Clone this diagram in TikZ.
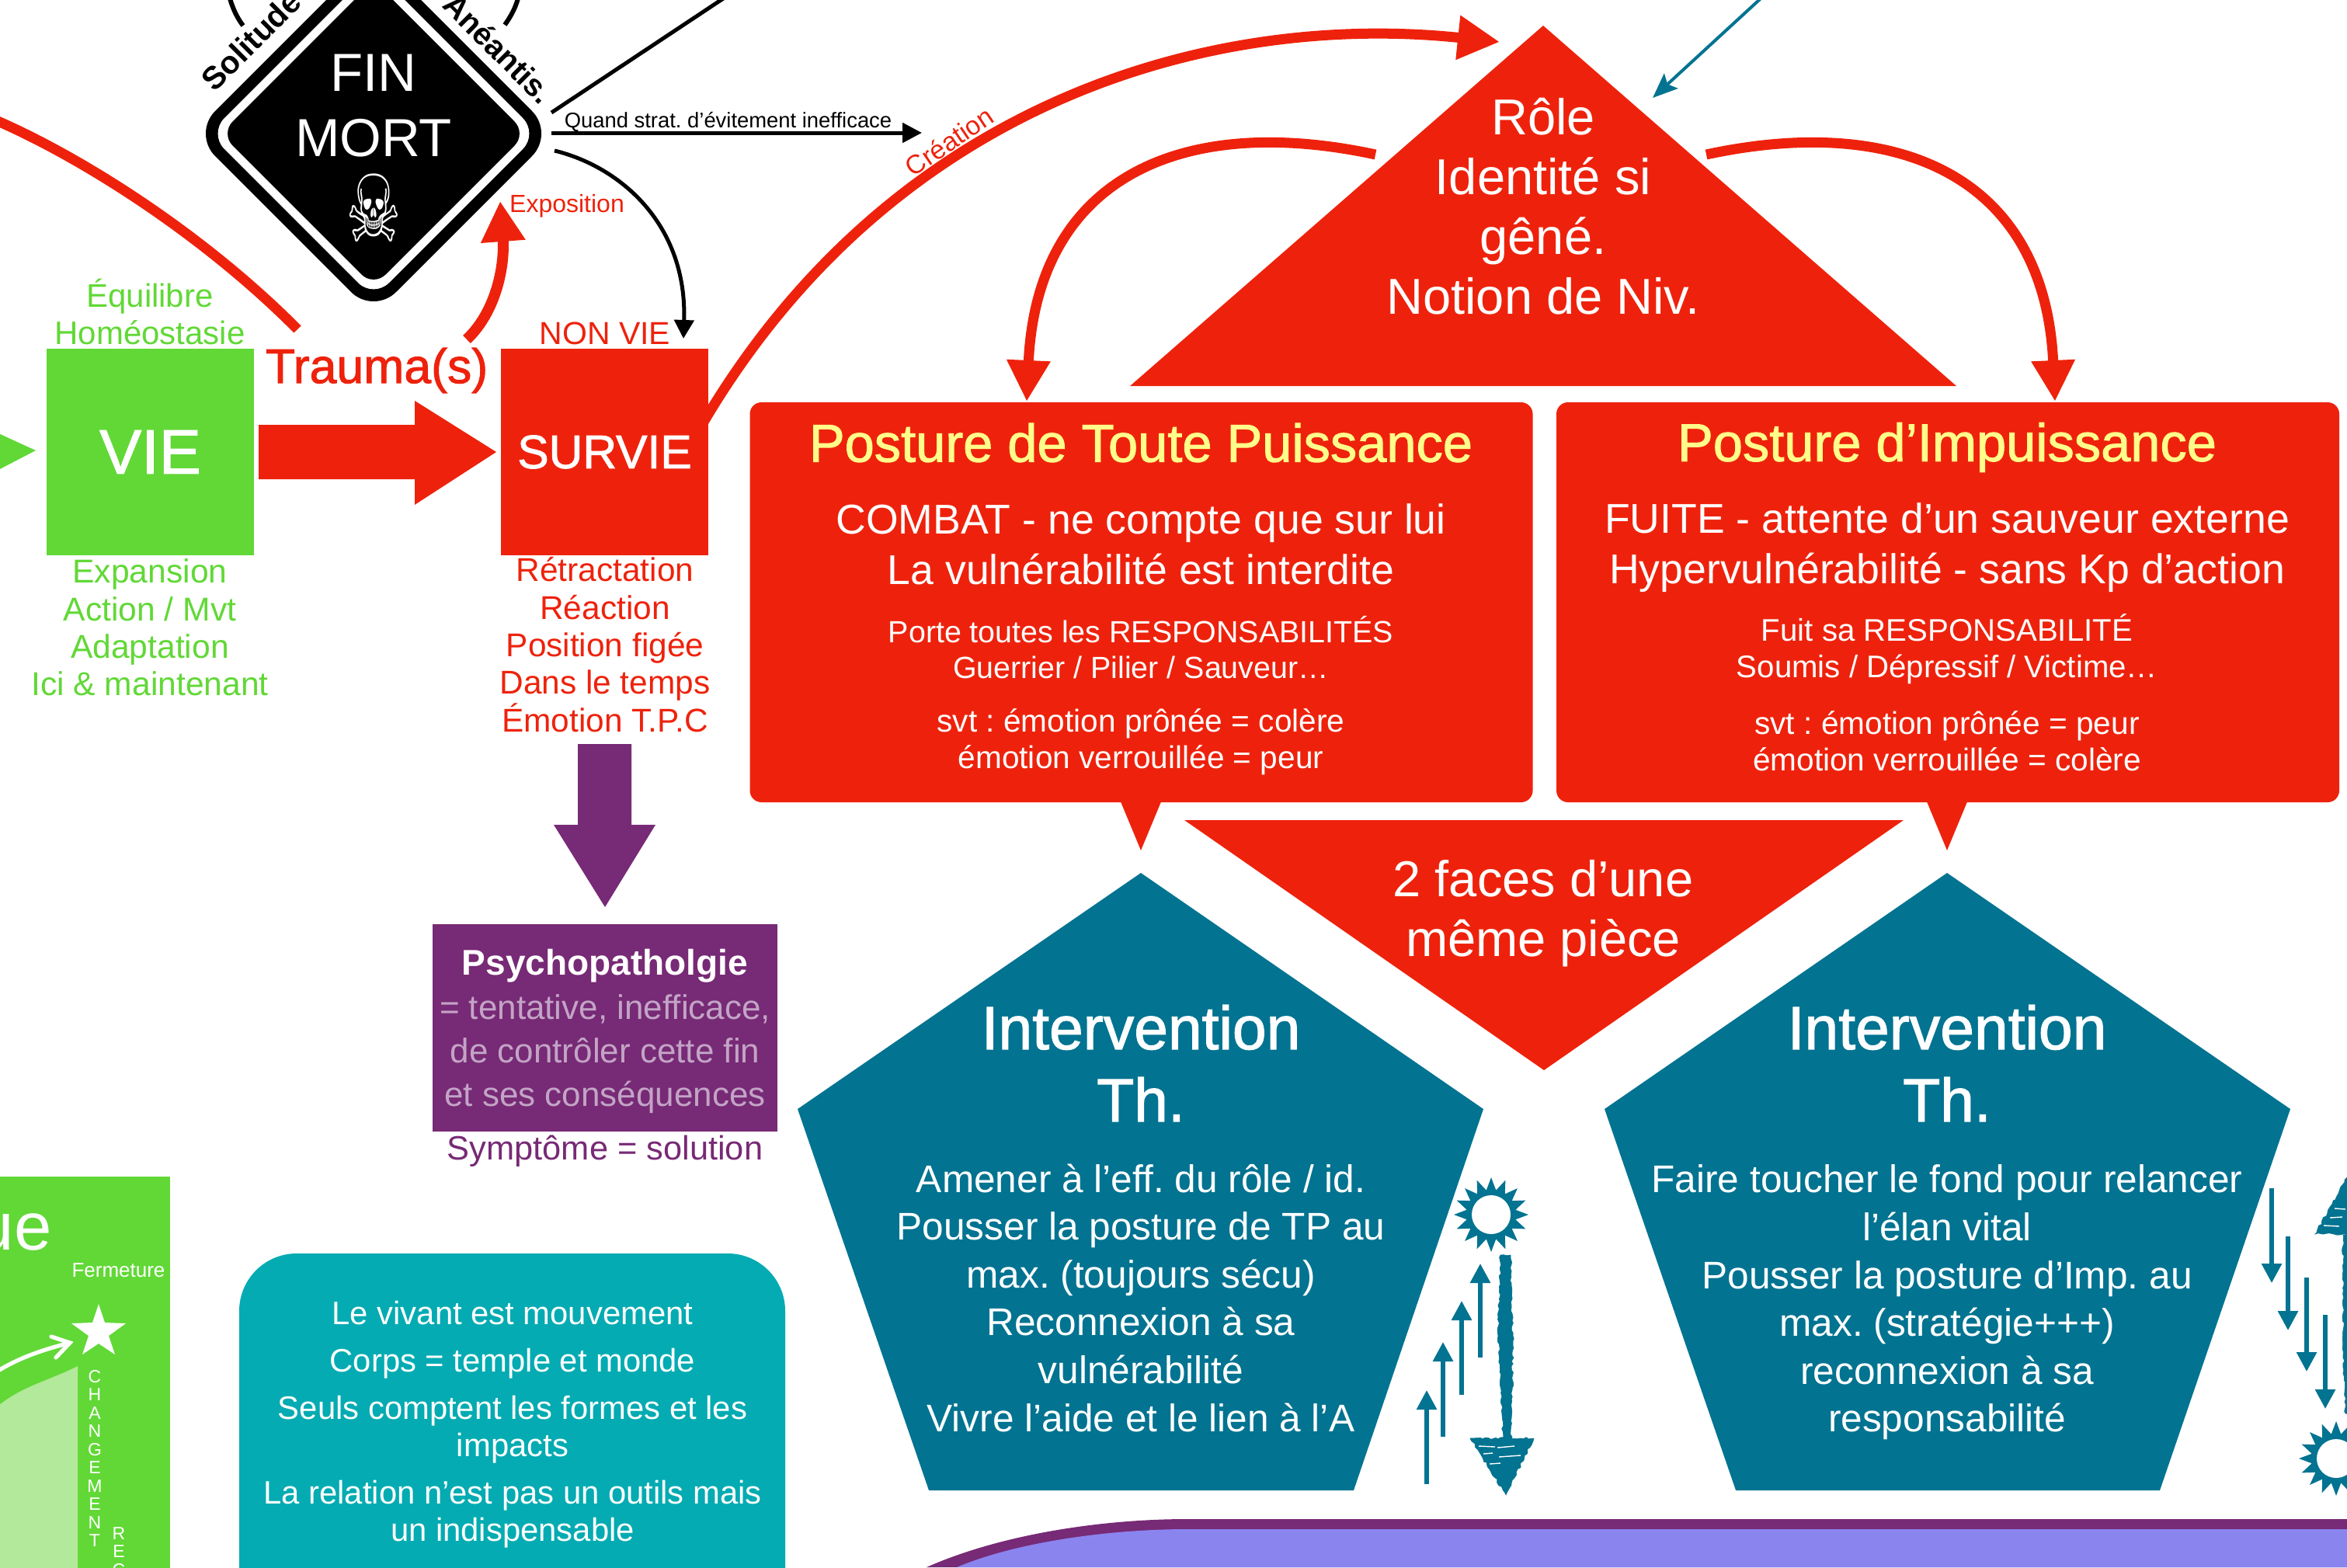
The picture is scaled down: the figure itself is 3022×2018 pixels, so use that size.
\documentclass[tikz,border=0pt]{standalone}
\usepackage{fontspec}
\setmainfont{Liberation Sans}
\newfontfamily\symfont{DejaVu Sans}
\newcommand{\medf}[2]{\font\medtmp="Liberation Sans:embolden=1.5" at #1pt \medtmp\baselineskip=#2pt\relax}
\usetikzlibrary{arrows.meta,shapes.geometric,decorations.pathmorphing}
\definecolor{cred}{HTML}{EE220C}
\definecolor{cgreen}{HTML}{61D836}
\definecolor{cpale}{HTML}{B2E99B}
\definecolor{cblue}{HTML}{027391}
\definecolor{cpurple}{HTML}{772A75}
\definecolor{cteal}{HTML}{04ABB2}
\definecolor{clilac}{HTML}{8A84EF}
\definecolor{cyellow}{HTML}{FFFC8A}
\definecolor{cthin}{HTML}{C3A4C6}
\newcommand{\fpx}[2]{\fontsize{#1}{#2}\selectfont}
\tikzset{
  lbl/.style={inner sep=0pt,align=center},
  squarebox/.style={inner sep=0pt,minimum width=#1,minimum height=133pt},
  posturebox/.style={fill=cred,rounded corners=7.5pt,inner sep=0pt,minimum width=504pt,minimum height=257.5pt},
  sunshape/.style={star,star points=16,star point ratio=1.5,fill=cblue,inner sep=0pt,minimum size=48pt},
  sunhole/.style={circle,fill=white,inner sep=0pt,minimum size=25pt},
  redcurve/.style={draw=cred,line width=6.5pt},
  smallup/.style={cblue,line width=2.7pt,-{Triangle[length=12.5pt,width=12.6pt]}},
  rough/.style={fill=cblue,draw=cblue,line width=.3pt,decorate,decoration={random steps,segment length=2pt,amplitude=.7pt}},
  scratch/.style={white,line width=.7pt},
}
\begin{document}
\frenchspacing
\begin{tikzpicture}[x=0.5pt,y=-0.5pt]
\useasboundingbox (0,0) rectangle (3022,2018);
\clip (0,0) rectangle (3022,2018);
\pgfmathsetseed{7}

% ---- named end points of the connectors
\coordinate (leftfree) at (-5,155);
\coordinate (traumaend) at (383,424);
\coordinate (exposfrom) at (601,437);
\coordinate (expostip) at (644,259);
\coordinate (finline) at (710,145);
\coordinate (upfree) at (960,-21);
\coordinate (stratfrom) at (710,171);
\coordinate (strattip) at (1187,171);
\coordinate (backfrom) at (714,194);
\coordinate (backtip) at (880,436);
\coordinate (creafrom) at (905,545);
\coordinate (creatip) at (1931,54);
\coordinate (roleleft) at (1771,199);
\coordinate (roleright) at (2197,199);
\coordinate (tpuissance) at (1322,517);
\coordinate (timpuissance) at (2646,517);
\coordinate (bluefree) at (2290,-23);
\coordinate (bluetip) at (2128,126);

% ---- left red curve
\draw[redcurve] (leftfree) .. controls (110,205) and (265,305) .. (traumaend);

% ---- big Création curve
\draw[redcurve,-{Triangle[length=27pt,width=27pt]}] (creafrom) .. controls (1150,130) and (1560,15) .. (creatip);
\node[lbl,text=cred,rotate=34,font=\fpx{17}{20}] (creation) at (1222,182) {Création};

% ---- green VIE block
\fill[cgreen] (-2,558) -- (46,580) -- (-2,605) -- cycle;
\node[squarebox=133.5pt,fill=cgreen,text=white,font=\medf{40.5}{46}] (vie) at (193.5,582) {\raisebox{-2pt}{VIE}};
\node[lbl,text=cgreen,font=\fpx{21}{24}] (equil) at (193,401) {Équilibre\\Homéostasie};
\node[lbl,text=cgreen,font=\fpx{21.3}{24.2}] (exp) at (193,808) {Expansion\\Action / Mvt\\Adaptation\\Ici \& maintenant};

% ---- SURVIE block
\node[squarebox=133.5pt,fill=cred,text=white,font=\medf{30.3}{36}] (survie) at (778.5,582) {\raisebox{-1pt}{SURVIE}};
\node[lbl,text=cred,font=\fpx{20.5}{24}] (nonvie) at (779,429) {NON VIE};
\node[lbl,text=cred,font=\fpx{21.2}{24.2}] (retr) at (779,830) {Rétractation\\Réaction\\Position figée\\Dans le temps\\Émotion T.P.C};

% ---- trauma arrow
\fill[cred] (333,547) -- (534,547) -- (534,516) -- (639,582) -- (534,650) -- (534,617) -- (333,617) -- cycle;
\node[lbl,text=cred,font=\medf{31.3}{36}] (trauma) at (485,477) {Trauma(s)};

% ---- exposition arrow
\draw[draw=cred,line width=7pt,-{Triangle[length=26pt,width=27pt]}] (exposfrom) .. controls (640,400) and (650,340) .. (expostip);
\node[lbl,text=cred,font=\fpx{16}{19}] (expos) at (730,265) {Exposition};

% ---- FIN MORT diamond
\fill[black,rounded corners=20.5pt] (481,-61) -- (714,172) -- (481,405) -- (248,172) -- cycle;
\fill[white,rounded corners=14pt] (481,-40) -- (693,172) -- (481,384) -- (269,172) -- cycle;
\fill[black,rounded corners=11pt] (481,-25) -- (678,172) -- (481,369) -- (284,172) -- cycle;
\node[lbl,text=white,font=\fpx{34.5}{38}] (fin) at (481,94) {FIN};
\node[lbl,text=white,font=\fpx{34.5}{38}] (mort) at (481,178) {MORT};
\node[lbl,text=white,font=\symfont\fpx{50}{56}] (skull) at (481,268) {\scalebox{0.8}[1.2]{☠}};
\node[lbl,rotate=45,font=\bfseries\fpx{20.5}{24}] (solitude) at (323,52) {Solitude};
\node[lbl,rotate=-45,font=\bfseries\fpx{20}{24}] (aneantis) at (642,62) {Anéantis.};
\draw[line width=3pt] (296,-2) .. controls (300,12) and (306,24) .. (313,33);
\draw[line width=3pt] (667,-2) .. controls (663,12) and (657,22) .. (650,32);

% ---- black connectors
\draw[line width=2.5pt] (finline) -- (upfree);
\draw[line width=2.5pt,-{Triangle[length=12.5pt,width=12.5pt]}] (stratfrom) -- (strattip);
\node[lbl,font=\fpx{13.7}{16}] (strat) at (937.5,157) {Quand strat. d’évitement inefficace};
\draw[line width=2.5pt,-{Triangle[length=12pt,width=12.5pt]}] (backfrom) .. controls (800,215) and (885,290) .. (backtip);

% ---- purple arrow and box
\fill[cpurple] (744,958) -- (813,958) -- (813,1062) -- (844,1062) -- (779,1168) -- (713,1062) -- (744,1062) -- cycle;
\fill[cpurple] (557,1190) rectangle (1001,1457);
\node[lbl,text=white,font=\bfseries\fpx{23}{27}] (psy) at (779,1244) {Psychopatholgie};
\node[lbl,text=cthin,font=\fpx{22}{28}] (psytext) at (779,1357) {= tentative, inefficace,\\de contrôler cette fin\\et ses conséquences};
\node[lbl,text=cpurple,font=\fpx{21.7}{26}] (sympt) at (779,1482) {Symptôme = solution};

% ---- bottom-left green panel
\fill[cgreen] (-2,1515) rectangle (219,2030);
\fill[cpale] (-2,1810) .. controls (28,1785) and (65,1777) .. (100,1759) -- (100,2030) -- (-2,2030) -- cycle;
\node[lbl,text=white,anchor=base east,font=\fpx{43.5}{48}] (ue) at (67,1609) {ue};
\node[lbl,text=white,font=\fpx{13}{16}] (ferm) at (152.5,1636) {Fermeture};
\fill[white] (127,1679) -- (135,1703) -- (162,1704) -- (140,1720) -- (148,1744) -- (127,1730) -- (106,1744) -- (114,1720) -- (92,1704) -- (119,1703) -- cycle;
\coordinate (wfrom) at (-4,1766);
\coordinate (wtip) at (90,1729);
\draw[white,line width=2.6pt,line cap=round] (wfrom) .. controls (25,1748) and (55,1738) .. (wtip);
\draw[white,line width=2.6pt,line cap=round,line join=miter] (66,1721) -- (wtip) -- (72,1748);
\node[lbl,text=white,anchor=north,font=\fpx{11.5}{11.75}] (chg) at (122,1764) {C\\H\\A\\N\\G\\E\\M\\E\\N\\T};
\node[lbl,text=white,anchor=north,font=\fpx{11.5}{11.75}] (res) at (153,1966) {R\\E\\C};

% ---- teal box
\fill[cteal,rounded corners=37pt] (308,1614) rectangle (1011,2120);
\node[lbl,text=white,font=\fpx{20.9}{24}] (t1) at (660,1691) {Le vivant est mouvement};
\node[lbl,text=white,font=\fpx{20.9}{24}] (t2) at (660,1756) {Corps = temple et monde};
\node[lbl,text=white,font=\fpx{20.9}{24}] (t3) at (660,1841) {Seuls comptent les formes et les\\impacts};
\node[lbl,text=white,font=\fpx{20.9}{24}] (t4) at (660,1950) {La relation n’est pas un outils mais\\un indispensable};

% ---- Rôle triangle and its arcs
\fill[cred] (1987,33) -- (2519,497) -- (1455,497) -- cycle;
\node[lbl,text=white,font=\fpx{32.5}{38.5}] (role) at (1987,266) {Rôle\\Identité si\\gêné.\\Notion de Niv.};
\draw[draw=cred,line width=6.5pt,-{Triangle[length=26.5pt,width=26.5pt]}] (roleleft) .. controls (1520,145) and (1335,230) .. (tpuissance);
\draw[draw=cred,line width=6.5pt,-{Triangle[length=26.5pt,width=26.5pt]}] (roleright) .. controls (2448,145) and (2633,230) .. (timpuissance);
\draw[cblue,line width=2pt,-{Stealth[length=16pt,width=13pt,inset=3pt]}] (bluefree) -- (bluetip);

% ---- posture boxes
\node[posturebox] (pl) at (1469.5,775.5) {};
\node[posturebox] (pr) at (2508,775.5) {};
\fill[cred] (1442,1030) -- (1496,1030) -- (1469,1095) -- cycle;
\fill[cred] (2480,1030) -- (2534,1030) -- (2507,1095) -- cycle;

\node[lbl,text=cyellow,font=\medf{34.3}{40}] (pl1) at (1469,570) {Posture de Toute Puissance};
\node[lbl,text=white,font=\fpx{26.8}{32.3}] (pl2) at (1469,701) {COMBAT - ne compte que sur lui\\La vulnérabilité est interdite};
\node[lbl,text=white,font=\fpx{19.7}{23}] (pl3) at (1469,834) {Porte toutes les RESPONSABILITÉS\\Guerrier / Pilier / Sauveur…};
\node[lbl,text=white,font=\fpx{20.3}{23.5}] (pl4) at (1469,955) {svt : émotion prônée = colère\\émotion verrouillée = peur};

\node[lbl,text=cyellow,font=\medf{34.3}{40}] (pr1) at (2507,576) {Posture d’Impuissance};
\node[lbl,text=white,font=\fpx{26.8}{32.3}] (pr2) at (2507,705) {FUITE - attente d’un sauveur externe\\Hypervulnérabilité - sans Kp d’action};
\node[lbl,text=white,font=\fpx{20.1}{23.5}] (pr3) at (2507,836) {Fuit sa RESPONSABILITÉ\\Soumis / Dépressif / Victime…};
\node[lbl,text=white,font=\fpx{20.3}{23.5}] (pr4) at (2507,954) {svt : émotion prônée = peur\\émotion verrouillée = colère};

% ---- 2 faces triangle
\fill[cred] (1525,1056) -- (2451,1056) -- (1988,1378) -- cycle;
\node[lbl,text=white,font=\fpx{32.5}{38.5}] (faces) at (1987,1176) {2 faces d’une\\même pièce};

% ---- pentagons
\fill[cblue] (1469,1124) -- (1910,1428) -- (1743,1919) -- (1196,1919) -- (1027,1428) -- cycle;
\fill[cblue] (2507,1124) -- (2949,1428) -- (2781,1919) -- (2235,1919) -- (2066,1428) -- cycle;
\node[lbl,text=white,font=\medf{39.3}{46.5}] (il) at (1469,1369) {Intervention\\Th.};
\node[lbl,text=white,font=\medf{39.3}{46.5}] (ir) at (2507,1369) {Intervention\\Th.};
\node[lbl,text=white,font=\fpx{24.8}{30.8}] (tl) at (1469,1671) {Amener à l’eff. du rôle / id.\\Pousser la posture de TP au\\max. (toujours sécu)\\Reconnexion à sa\\vulnérabilité\\Vivre l’aide et le lien à l’A};
\node[lbl,text=white,font=\fpx{24.8}{30.8}] (tr) at (2507,1677) {Faire toucher le fond pour relancer\\l’élan vital\\Pousser la posture d’Imp. au\\max. (stratégie+++)\\reconnexion à sa\\responsabilité};

% ---- suns
\node[sunshape] (sunl) at (1920,1564) {};
\node[sunhole] (holel) at (1920,1564) {};
\node[sunshape] (sunr) at (3008,1878) {};
\node[sunhole] (holer) at (3008,1878) {};

% ---- small up arrows
\coordinate (ua) at (1837,1911); \coordinate (uat) at (1837,1790);
\coordinate (ub) at (1858,1850); \coordinate (ubt) at (1858,1728);
\coordinate (uc) at (1882,1796); \coordinate (uct) at (1882,1675);
\coordinate (ud) at (1906,1748); \coordinate (udt) at (1906,1627);
\draw[smallup] (ua) -- (uat);
\draw[smallup] (ub) -- (ubt);
\draw[smallup] (uc) -- (uct);
\draw[smallup] (ud) -- (udt);
% ---- small down arrows
\coordinate (da) at (2925,1530); \coordinate (dat) at (2925,1652);
\coordinate (db) at (2946,1592); \coordinate (dbt) at (2946,1713);
\coordinate (dc) at (2970,1645); \coordinate (dct) at (2970,1766);
\coordinate (dd) at (2994,1693); \coordinate (ddt) at (2994,1814);
\draw[smallup] (da) -- (dat);
\draw[smallup] (db) -- (dbt);
\draw[smallup] (dc) -- (dct);
\draw[smallup] (dd) -- (ddt);

% ---- brush arrow (down)
\fill[rough] (1932,1616) -- (1945,1616) -- (1946,1680) -- (1948,1720) -- (1947,1790) -- (1946,1855) -- (1935,1855) -- (1933,1790) -- (1929,1720) -- cycle;
\fill[rough] (1893,1852) -- (1975,1852) -- (1939,1925) -- cycle;
\draw[scratch] (1904,1862) -- (1925,1863);
\draw[scratch] (1928,1864) -- (1950,1862);
\draw[scratch] (1910,1872) -- (1922,1871);
\draw[scratch] (1930,1876) -- (1958,1874);
\draw[scratch] (1918,1885) -- (1932,1884);
% ---- brush arrow (up)
\fill[rough] (3017,1590) -- (3030,1590) -- (3030,1820) -- (3020,1820) -- (3017,1740) -- (3017,1690) -- cycle;
\fill[rough] (2981,1589) -- (3063,1589) -- (3022,1516) -- cycle;
\draw[scratch] (2992,1578) -- (3012,1579);
\draw[scratch] (3000,1568) -- (3016,1567);
\draw[scratch] (3006,1556) -- (3020,1557);

% ---- bottom purple panel
\fill[cpurple] (1193,2018) .. controls (1290,1975) and (1420,1956) .. (1529,1956) -- (3022,1956) -- (3022,2018) -- cycle;
\fill[clilac] (1232,2018) .. controls (1310,1985) and (1430,1969) .. (1529,1969) -- (3022,1969) -- (3022,2018) -- cycle;
\end{tikzpicture}
\end{document}
